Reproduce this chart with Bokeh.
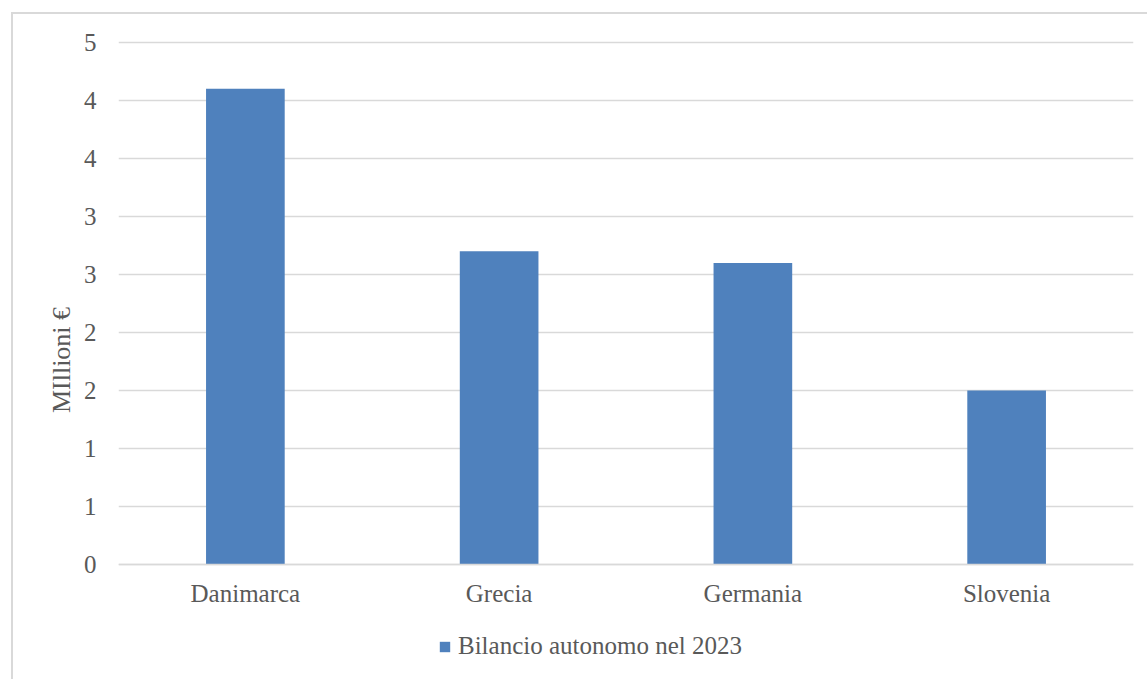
from bokeh.plotting import figure
from bokeh.models import (ColumnDataSource, FixedTicker, Range1d, Legend, LegendItem,
                          InlineStyleSheet)
from bokeh.embed import file_html
from bokeh.resources import INLINE

categories = ["Danimarca", "Grecia", "Germania", "Slovenia"]
values = [4.1, 2.7, 2.6, 1.5]
series_name = "Bilancio autonomo nel 2023"
y_ticks = [0, 0.5, 1.0, 1.5, 2.0, 2.5, 3.0, 3.5, 4.0, 4.5]
y_tick_labels = ["0", "1", "1", "2", "2", "3", "3", "4", "4", "5"]
y_title = "MIllioni €"

FONT = "Liberation Serif"
TXT = "#595959"
GRID = "#d9d9d9"
BLUE = "#4f81bd"

src = ColumnDataSource(dict(cat=categories, val=values))

css = InlineStyleSheet(css="""
:host { position: relative; }
:host::after {
  content: ''; position: absolute; left: 11px; top: 12px; right: 0px; bottom: 0px;
  border-left: 2px solid #d9d9d9; border-top: 2px solid #d9d9d9;
  pointer-events: none;
}
""")

# frame extends to the bottom of the canvas; x axis is pinned at y=0
p = figure(x_range=categories, y_range=Range1d(-115 / 116, 4.517),
           frame_width=1015, frame_height=639,
           output_backend="svg", toolbar_location=None,
           min_border_left=118, min_border_right=14, min_border_top=40,
           min_border_bottom=0)
p.outline_line_color = None
p.stylesheets = [css]

r = p.vbar(x="cat", top="val", width=0.31, source=src, fill_color=BLUE, line_color=None)

p.yaxis.ticker = FixedTicker(ticks=y_ticks)
p.yaxis.major_label_overrides = {t: l for t, l in zip(y_ticks, y_tick_labels)}
p.yaxis.axis_line_color = None
p.yaxis.major_tick_line_color = None
p.yaxis.minor_tick_line_color = None
p.yaxis.major_label_standoff = 16
p.yaxis.major_label_text_font = FONT
p.yaxis.major_label_text_font_size = "25px"
p.yaxis.major_label_text_color = TXT
p.yaxis.axis_label = y_title
p.yaxis.axis_label_text_font = FONT
p.yaxis.axis_label_text_font_size = "26px"
p.yaxis.axis_label_text_font_style = "normal"
p.yaxis.axis_label_text_color = TXT
p.yaxis.axis_label_standoff = 5

p.xaxis.fixed_location = 0
p.xaxis.axis_line_color = GRID
p.xaxis.axis_line_width = 1.5
p.xaxis.major_tick_line_color = None
p.xaxis.minor_tick_line_color = None
p.xaxis.major_label_standoff = 10
p.xaxis.major_label_text_font = FONT
p.xaxis.major_label_text_font_size = "25px"
p.xaxis.major_label_text_color = TXT

p.xgrid.grid_line_color = None
p.ygrid.grid_line_color = GRID
p.ygrid.grid_line_width = 1.5

legend = Legend(items=[LegendItem(label=series_name, renderers=[r])],
                location=(320, 19), orientation="horizontal",
                label_text_font=FONT, label_text_font_size="25px",
                label_text_color=TXT, glyph_width=13, glyph_height=13,
                label_standoff=7, padding=0, margin=0, spacing=0,
                border_line_color=None, background_fill_alpha=0)
p.add_layout(legend, "center")

open("out.html", "w").write(file_html(p, INLINE))
